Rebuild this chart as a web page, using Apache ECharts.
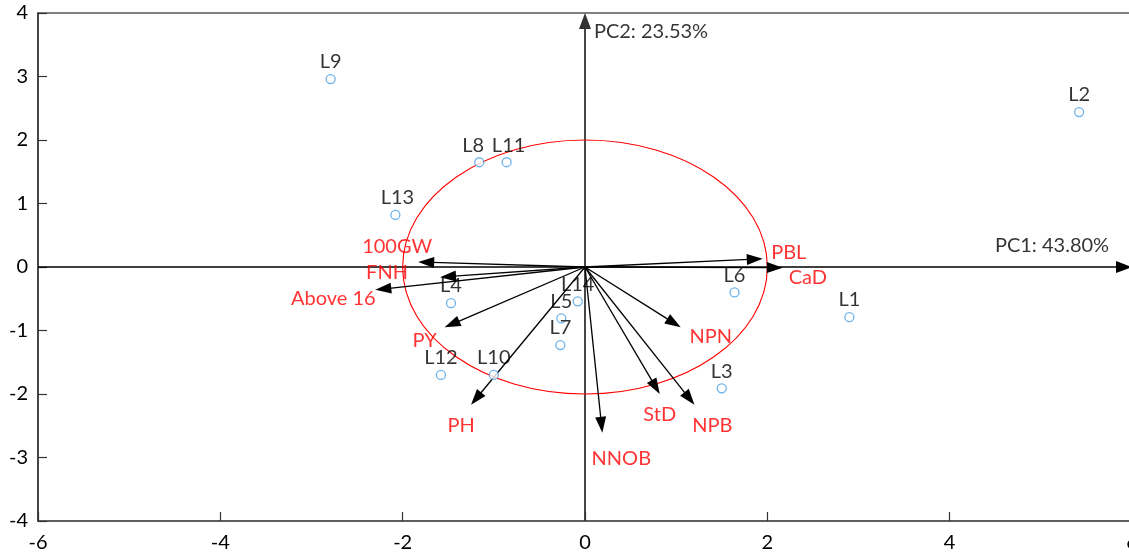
<!DOCTYPE html>
<html>
<head>
<meta charset="utf-8">
<script src="https://cdn.jsdelivr.net/npm/echarts@6/dist/echarts.min.js"></script>
<style>
html,body{margin:0;padding:0;background:#fff;overflow:hidden;}
#chart{width:1129px;height:555px;}
</style>
</head>
<body>
<div id="chart"></div>
<script>
// ---- data ----
const pointNames = ['L1','L2','L3','L4','L5','L6','L7','L8','L9','L10','L11','L12','L13','L14'];
const pointPC1   = [2.90, 5.42, 1.50, -1.47, -0.26, 1.64, -0.27, -1.16, -2.79, -1.00, -0.86, -1.58, -2.08, -0.08];
const pointPC2   = [-0.79, 2.44, -1.91, -0.57, -0.81, -0.40, -1.23, 1.65, 2.96, -1.70, 1.65, -1.70, 0.82, -0.54];

const varNames = ['PBL','CaD','100GW','FNH','Above 16','PY','PH','NNOB','StD','NPB','NPN'];
const varPC1   = [1.95, 2.17, -1.83, -1.59, -2.30, -1.54, -1.25, 0.19, 0.82, 1.20, 1.05];
const varPC2   = [0.13, -0.01, 0.08, -0.16, -0.36, -0.95, -2.17, -2.61, -2.00, -2.17, -0.95];

const circleRadius = 2;
const axisTitles = ['PC1: 43.80%', 'PC2: 23.53%'];
const xMin = -6, xMax = 6, xStep = 2;
const yMin = -4, yMax = 4, yStep = 1;

// ---- styling (label offsets in pixels) ----
const FONT = 'Lato';
const varLabelOffset = {
  'PBL': [26, -6], 'CaD': [25, 10], '100GW': [-21, -15], 'FNH': [-53, -5],
  'Above 16': [-42, 9], 'PY': [-20, 13], 'PH': [-10, 21], 'NNOB': [19, 26],
  'StD': [0, 21], 'NPB': [18, 21], 'NPN': [30, 9]
};
const pointLabelOffset = {'L8': [-6, 0], 'L11': [2, 0], 'L13': [2, 0]};

function arrowShapes(api, from, to, color, lw, headLen, halfW) {
  const p0 = api.coord(from), p1 = api.coord(to);
  const dx = p1[0] - p0[0], dy = p1[1] - p0[1];
  const len = Math.sqrt(dx * dx + dy * dy) || 1;
  const ux = dx / len, uy = dy / len;
  const bx = p1[0] - ux * headLen, by = p1[1] - uy * headLen;
  const px = -uy, py = ux;
  return [
    {type: 'line', shape: {x1: p0[0], y1: p0[1], x2: bx + ux * 2, y2: by + uy * 2},
     style: {stroke: color, lineWidth: lw}},
    {type: 'polygon', shape: {points: [[p1[0], p1[1]], [bx + px * halfW, by + py * halfW], [bx - px * halfW, by - py * halfW]]},
     style: {fill: color}}
  ];
}

const chart = echarts.init(document.getElementById('chart'));
chart.setOption({
  animation: false,
  backgroundColor: '#fff',
  textStyle: {fontFamily: FONT},
  grid: {left: 38, top: 13, width: 1094, height: 508, outerBoundsMode: 'none', containLabel: false,
         show: true, borderColor: '#555', borderWidth: 1.5, backgroundColor: 'transparent'},
  xAxis: {
    type: 'value', min: xMin, max: xMax, interval: xStep,
    axisLine: {onZero: false, lineStyle: {color: '#555', width: 1.5}},
    axisTick: {inside: true, length: 9, lineStyle: {color: '#333', width: 1.2}},
    axisLabel: {color: '#000', fontSize: 20, fontFamily: FONT, margin: 12},
    splitLine: {show: false}
  },
  yAxis: {
    type: 'value', min: yMin, max: yMax, interval: yStep,
    axisLine: {onZero: false, lineStyle: {color: '#333', width: 1.5}},
    axisTick: {inside: true, length: 9, lineStyle: {color: '#333', width: 1.2}},
    axisLabel: {color: '#000', fontSize: 20, fontFamily: FONT, margin: 10},
    splitLine: {show: false}
  },
  series: [
    // central axes with arrows
    {
      type: 'custom', silent: true, clip: false, z: 2,
      data: [[xMin, 0, xMax, 0, 0], [0, yMin, 0, yMax, 1]],
      renderItem: function (params, api) {
        const vertical = api.value(4) === 1;
        return {type: 'group', children: arrowShapes(api, [api.value(0), api.value(1)], [api.value(2), api.value(3)],
          vertical ? '#333' : '#000', vertical ? 1.8 : 1.5, 16, 6)};
      }
    },
    // correlation circle
    {
      type: 'custom', silent: true, clip: false, z: 3,
      data: [[0, 0, circleRadius]],
      renderItem: function (params, api) {
        const c = api.coord([api.value(0), api.value(1)]);
        const s = api.size([api.value(2), api.value(2)]);
        return {type: 'ellipse', shape: {cx: c[0], cy: c[1], rx: s[0], ry: s[1]},
          style: {fill: 'none', stroke: '#ff0000', lineWidth: 1.1}};
      }
    },
    // variable loading arrows
    {
      type: 'custom', silent: true, clip: false, z: 4,
      data: varNames.map((n, i) => [varPC1[i], varPC2[i]]),
      renderItem: function (params, api) {
        return {type: 'group', children: arrowShapes(api, [0, 0], [api.value(0), api.value(1)], '#000', 1.3, 16, 5.5)};
      }
    },
    // variable labels
    {
      type: 'scatter', silent: true, z: 6,
      symbol: 'circle', symbolSize: 1, itemStyle: {color: 'rgba(0,0,0,0)'},
      data: varNames.map((n, i) => ({
        name: n, value: [varPC1[i], varPC2[i]],
        label: {offset: varLabelOffset[n]}
      })),
      label: {show: true, position: 'inside', formatter: '{b}', color: '#ff0000', fontSize: 20, fontFamily: FONT}
    },
    // observations
    {
      type: 'scatter', silent: true, z: 5,
      symbol: 'circle', symbolSize: 9,
      itemStyle: {color: '#fff', borderColor: '#4A9FE3', borderWidth: 1.3},
      data: pointNames.map((n, i) => ({
        name: n, value: [pointPC1[i], pointPC2[i]],
        label: {offset: pointLabelOffset[n] || [0, 0]}
      })),
      label: {show: true, position: 'top', distance: 2, formatter: '{b}', color: '#000', fontSize: 20, fontFamily: FONT}
    },
    // axis titles
    {
      type: 'scatter', silent: true, z: 6,
      symbol: 'circle', symbolSize: 1, itemStyle: {color: 'rgba(0,0,0,0)'},
      data: [
        {name: axisTitles[0], value: [xMax, 0], label: {offset: [-80, -21]}},
        {name: axisTitles[1], value: [0, yMax], label: {offset: [66, 19]}}
      ],
      label: {show: true, position: 'inside', formatter: '{b}', color: '#000', fontSize: 20, fontFamily: FONT}
    }
  ]
});
</script>
</body>
</html>
